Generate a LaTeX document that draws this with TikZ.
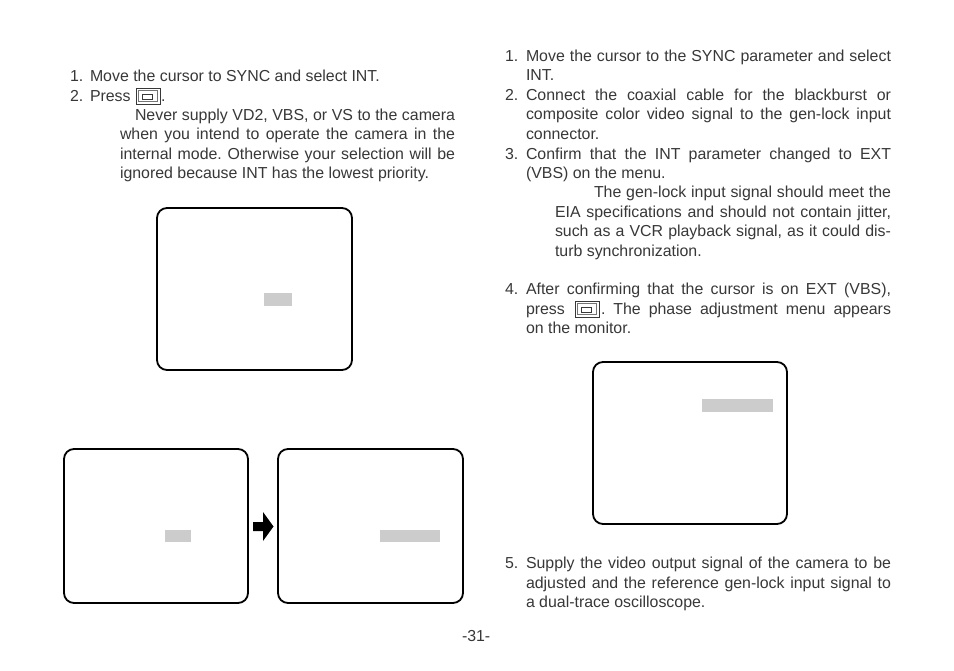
\documentclass[tikz,border=0pt]{standalone}
\usepackage{fontspec}
\setmainfont{Liberation Sans}
\definecolor{txt}{HTML}{383838}
\definecolor{bar}{HTML}{CCCCCC}
\tikzset{
  x=1pt,y=-1pt,
  screen/.style={draw=black,line width=1.8pt,rounded corners=10pt,fill=white},
  bar/.style={fill=bar,draw=none},
  tl/.style={anchor=base west,inner sep=0pt,outer sep=0pt,text=txt,font=\fontsize{15.9}{18}\selectfont\frenchspacing},
}
\newcommand{\jl}[1]{\makebox[#1][s]}
\newcommand{\btn}[2]{%
  \draw[line width=.9pt,draw=txt] (#1,#2) rectangle +(24,16);
  \draw[line width=.5pt,draw=txt!70] (#1+2.5,#2+2.5) rectangle +(19,11);
  \draw[line width=.7pt,draw=txt] (#1+6.5,#2+6) rectangle +(10,5);
}
\begin{document}
\begin{tikzpicture}
\useasboundingbox (0,0) rectangle (954,671);
\fill[white] (0,0) rectangle (954,671);
% left column
\node[tl] (l1a) at (70,81.5) {1.};
\node[tl] (l1b) at (90,81.5) {Move the cursor to SYNC and select INT.};
\node[tl] (l2a) at (70,101.5) {2.};
\node[tl] (l2b) at (90,101.5) {Press};
\btn{136}{88}
\node[tl] (l2c) at (161,101.5) {.};
\node[tl] (l3) at (135,120.5) {\jl{320pt}{Never supply VD2, VBS, or VS to the camera}};
\node[tl] (l4) at (120,140) {\jl{335pt}{when you intend to operate the camera in the}};
\node[tl] (l5) at (120,159.5) {\jl{335pt}{internal mode. Otherwise your selection will be}};
\node[tl] (l6) at (120,178.5) {ignored because INT has the lowest priority.};
% screens
\draw[screen] (157,208) rectangle (352,370);
\fill[bar] (264,293) rectangle (292,306);
\draw[screen] (64,449) rectangle (248,603);
\fill[bar] (165,530) rectangle (191,542);
\draw[screen] (278,449) rectangle (463,603);
\fill[bar] (380,530) rectangle (440,542);
\fill[black] (253,522) -- (263,522) -- (263,512) -- (273.5,526.5) -- (263,541) -- (263,531) -- (253,531) -- cycle;
\draw[screen] (593,362) rectangle (787,524);
\fill[bar] (702,399) rectangle (773,412);
% right column
\node[tl] at (505,61.5) {1.};
\node[tl] at (526,61.5) {\jl{365pt}{Move the cursor to the SYNC parameter and select}};
\node[tl] at (526,81) {INT.};
\node[tl] at (505,100.5) {2.};
\node[tl] at (526,100.5) {\jl{365pt}{Connect the coaxial cable for the blackburst or}};
\node[tl] at (526,120) {\jl{365pt}{composite color video signal to the gen-lock input}};
\node[tl] at (526,139.5) {connector.};
\node[tl] at (505,159.5) {3.};
\node[tl] at (526,159.5) {\jl{365pt}{Confirm that the INT parameter changed to EXT}};
\node[tl] at (526,178.5) {(VBS) on the menu.};
\node[tl] at (594,198) {\jl{297pt}{The gen-lock input signal should meet the}};
\node[tl] at (555,217.5) {\jl{336pt}{EIA specifications and should not contain jitter,}};
\node[tl] at (555,237) {\jl{336pt}{such as a VCR playback signal, as it could dis-}};
\node[tl] at (555,256.5) {turb synchronization.};
\node[tl] at (505,295) {4.};
\node[tl] at (526,295) {\jl{365pt}{After confirming that the cursor is on EXT (VBS),}};
\node[tl] at (526,314.5) {press};
\btn{575}{301}
\node[tl] at (601,314.5) {\jl{290pt}{. The phase adjustment menu appears}};
\node[tl] at (526,334) {on the monitor.};
\node[tl] at (505,568.5) {5.};
\node[tl] at (526,568.5) {\jl{365pt}{Supply the video output signal of the camera to be}};
\node[tl] at (526,588) {\jl{365pt}{adjusted and the reference gen-lock input signal to}};
\node[tl] at (526,607) {a dual-trace oscilloscope.};
\node[tl] at (462,641) {-31-};
\end{tikzpicture}
\end{document}
